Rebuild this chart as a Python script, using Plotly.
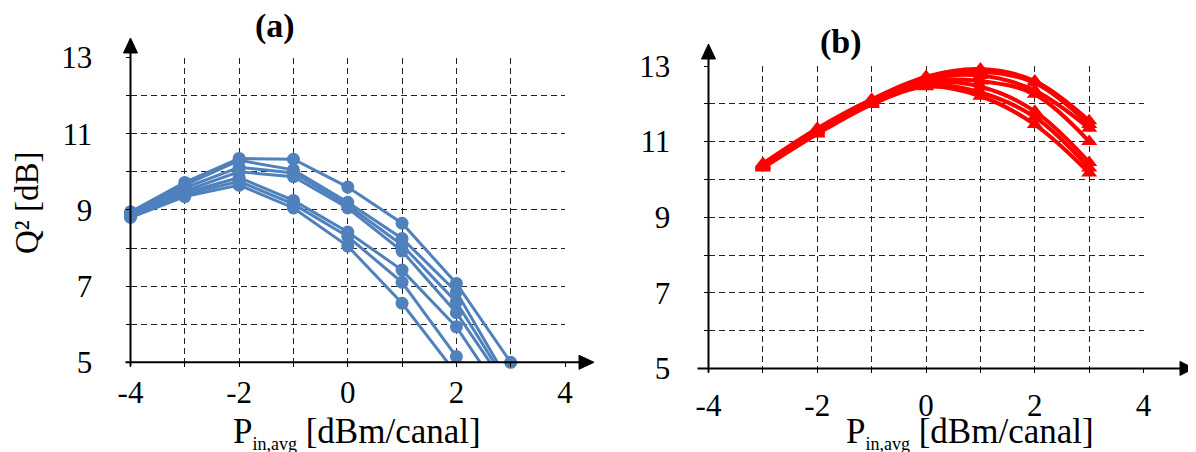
import plotly.graph_objects as go

# page body has an 8px default margin; the figure is sized to fill the rest
OFF = 8
W, H = 1196, 452
FW, FH = W - OFF, H - OFF

# ---------------- data ----------------
x_a = [-4, -3, -2, -1, 0, 1, 2, 3]
qa_1 = [8.95, 9.72, 10.35, 10.33, 9.60, 8.65, 7.07, 5.00]
qa_2 = [8.92, 9.65, 10.30, 10.05, 9.20, 8.25, 6.85, 4.40]
qa_3 = [8.88, 9.58, 10.12, 9.97, 9.12, 8.08, 6.58, 4.30]
qa_4 = [8.85, 9.50, 10.00, 9.87, 9.05, 7.92, 6.30, 4.20]
qa_5 = [8.85, 9.45, 9.85, 9.25, 8.42, 7.42, 5.93, 3.80]
qa_6 = [8.82, 9.40, 9.75, 9.15, 8.30, 7.10, 5.15, 3.20]
qa_7 = [8.80, 9.35, 9.65, 9.05, 8.05, 6.55, 4.70, 3.00]

x_b = [-3, -2, -1, 0, 1, 2, 3]
qb_1 = [10.42, 11.35, 12.12, 12.72, 12.92, 12.60, 11.55]
qb_2 = [10.40, 11.32, 12.10, 12.68, 12.85, 12.55, 11.45]
qb_3 = [10.38, 11.30, 12.08, 12.65, 12.75, 12.35, 11.35]
qb_4 = [10.37, 11.28, 12.05, 12.60, 12.60, 12.25, 11.00]
qb_5 = [10.35, 11.25, 12.03, 12.55, 12.45, 11.80, 10.45]
qb_6 = [10.33, 11.22, 12.00, 12.50, 12.30, 11.65, 10.30]
qb_7 = [10.30, 11.20, 11.98, 12.45, 12.20, 11.45, 10.17]

x_tickvals = [-4, -2, 0, 2, 4]
x_ticktext = ["-4", "-2", "0", "2", "4"]
y_tickvals = [5, 7, 9, 11, 13]

series_a = [qa_1, qa_2, qa_3, qa_4, qa_5, qa_6, qa_7]
series_b = [qb_1, qb_2, qb_3, qb_4, qb_5, qb_6, qb_7]

BLUE = "#4F81BD"
RED = "#FF0000"
FONT = "Liberation Serif"


def fx(p):
    return (p - OFF) / FW


def fy(p):
    return 1 - (p - OFF) / FH


fig = go.Figure()
for s in series_a:
    fig.add_trace(go.Scatter(
        x=x_a, y=s, mode="lines+markers", xaxis="x", yaxis="y",
        line=dict(color=BLUE, width=3),
        marker=dict(symbol="circle", size=13, color=BLUE),
        cliponaxis=False, showlegend=False, hoverinfo="skip"))
for s in series_b:
    fig.add_trace(go.Scatter(
        x=x_b, y=s, mode="lines+markers", xaxis="x2", yaxis="y2",
        line=dict(color=RED, width=4, shape="spline", smoothing=1),
        marker=dict(symbol="triangle-up", size=14, color=RED),
        cliponaxis=False, showlegend=False, hoverinfo="skip"))

GRID = dict(showgrid=True, gridcolor="#222222", gridwidth=1, griddash="6px,4px")
TICKFONT = dict(family=FONT, size=31, color="#000000")


def xaxis(domain, anchor, standoff):
    return dict(domain=domain, anchor=anchor, range=[-4, 4], automargin=False,
                tickmode="array", tickvals=x_tickvals, ticktext=x_ticktext,
                zeroline=False, showline=False, ticks="outside", ticklen=4,
                tickcolor="#000", tickfont=TICKFONT, ticklabelstandoff=standoff,
                minor=dict(tickmode="linear", tick0=-4, dtick=1, ticks="outside",
                           ticklen=4, tickcolor="#000", **GRID),
                fixedrange=True, **GRID)


def yaxis(domain, anchor, standoff):
    return dict(domain=domain, anchor=anchor, range=[5, 13], automargin=False,
                tickmode="array", tickvals=y_tickvals,
                zeroline=False, showline=False, ticks="outside", ticklen=4,
                tickcolor="#000", tickfont=TICKFONT, ticklabelstandoff=standoff,
                minor=dict(tickmode="linear", tick0=5, dtick=1, ticks="outside",
                           ticklen=4, tickcolor="#000", **GRID),
                fixedrange=True, **GRID)


# panel geometry in page pixels
A_X0, A_X1, A_Y5, A_Y13 = 130.5, 565.0, 362.3, 57.5
B_X0, B_X1, B_Y5, B_Y13 = 708.5, 1143.6, 368.4, 66.0

fig.update_layout(
    width=FW, height=FH, margin=dict(l=0, r=0, t=0, b=0, autoexpand=False),
    paper_bgcolor="white", plot_bgcolor="white",
    xaxis=xaxis([fx(A_X0), fx(A_X1)], "y", -2),
    yaxis=yaxis([fy(A_Y5), fy(A_Y13)], "x", 27),
    xaxis2=xaxis([fx(B_X0), fx(B_X1)], "y2", 5),
    yaxis2=yaxis([fy(B_Y5), fy(B_Y13)], "x2", 27),
)

shapes = []


def seg(x0, y0, x1, y1):
    shapes.append(dict(type="line", xref="paper", yref="paper",
                       x0=fx(x0), y0=fy(y0), x1=fx(x1), y1=fy(y1),
                       line=dict(color="#000", width=2), layer="above"))


def tri(pts):
    path = "M " + " L ".join(f"{fx(a):.5f},{fy(b):.5f}" for a, b in pts) + " Z"
    shapes.append(dict(type="path", xref="paper", yref="paper", path=path,
                       fillcolor="#000", line=dict(color="#000", width=1), layer="above"))


# panel (a) axes with arrows
seg(A_X0, A_Y5 + 4, A_X0, 52)
tri([(A_X0, 38), (A_X0 - 7, 53), (A_X0 + 7, 53)])
seg(A_X0 - 5, A_Y5, 580, A_Y5)
tri([(594, A_Y5), (579, A_Y5 - 7), (579, A_Y5 + 7)])
# panel (b) axes with arrows
seg(B_X0, B_Y5 + 4, B_X0, 58)
tri([(B_X0, 44), (B_X0 - 7, 59), (B_X0 + 7, 59)])
seg(B_X0 - 11, B_Y5, 1181, B_Y5)
tri([(1194, B_Y5), (1180, B_Y5 - 7), (1180, B_Y5 + 7)])

fig.update_layout(shapes=shapes)

xtitle = "P<sub><span style='font-size:18px'>in,avg</span></sub> [dBm/canal]"
ann = [
    dict(text="<b>(a)</b>", x=fx(275), y=fy(26), font=dict(family=FONT, size=34)),
    dict(text="<b>(b)</b>", x=fx(841), y=fy(42), font=dict(family=FONT, size=34)),
    dict(text="Q² [dB]", x=fx(27), y=fy(203), textangle=-90,
         font=dict(family=FONT, size=33)),
    dict(text=xtitle, x=fx(357), y=fy(433), font=dict(family=FONT, size=35)),
    dict(text=xtitle, x=fx(970), y=fy(433), font=dict(family=FONT, size=35)),
]
for a in ann:
    a.update(xref="paper", yref="paper", showarrow=False,
             xanchor="center", yanchor="middle")
    a["font"]["color"] = "#000"
fig.update_layout(annotations=ann)

fig.write_html("out.html")
